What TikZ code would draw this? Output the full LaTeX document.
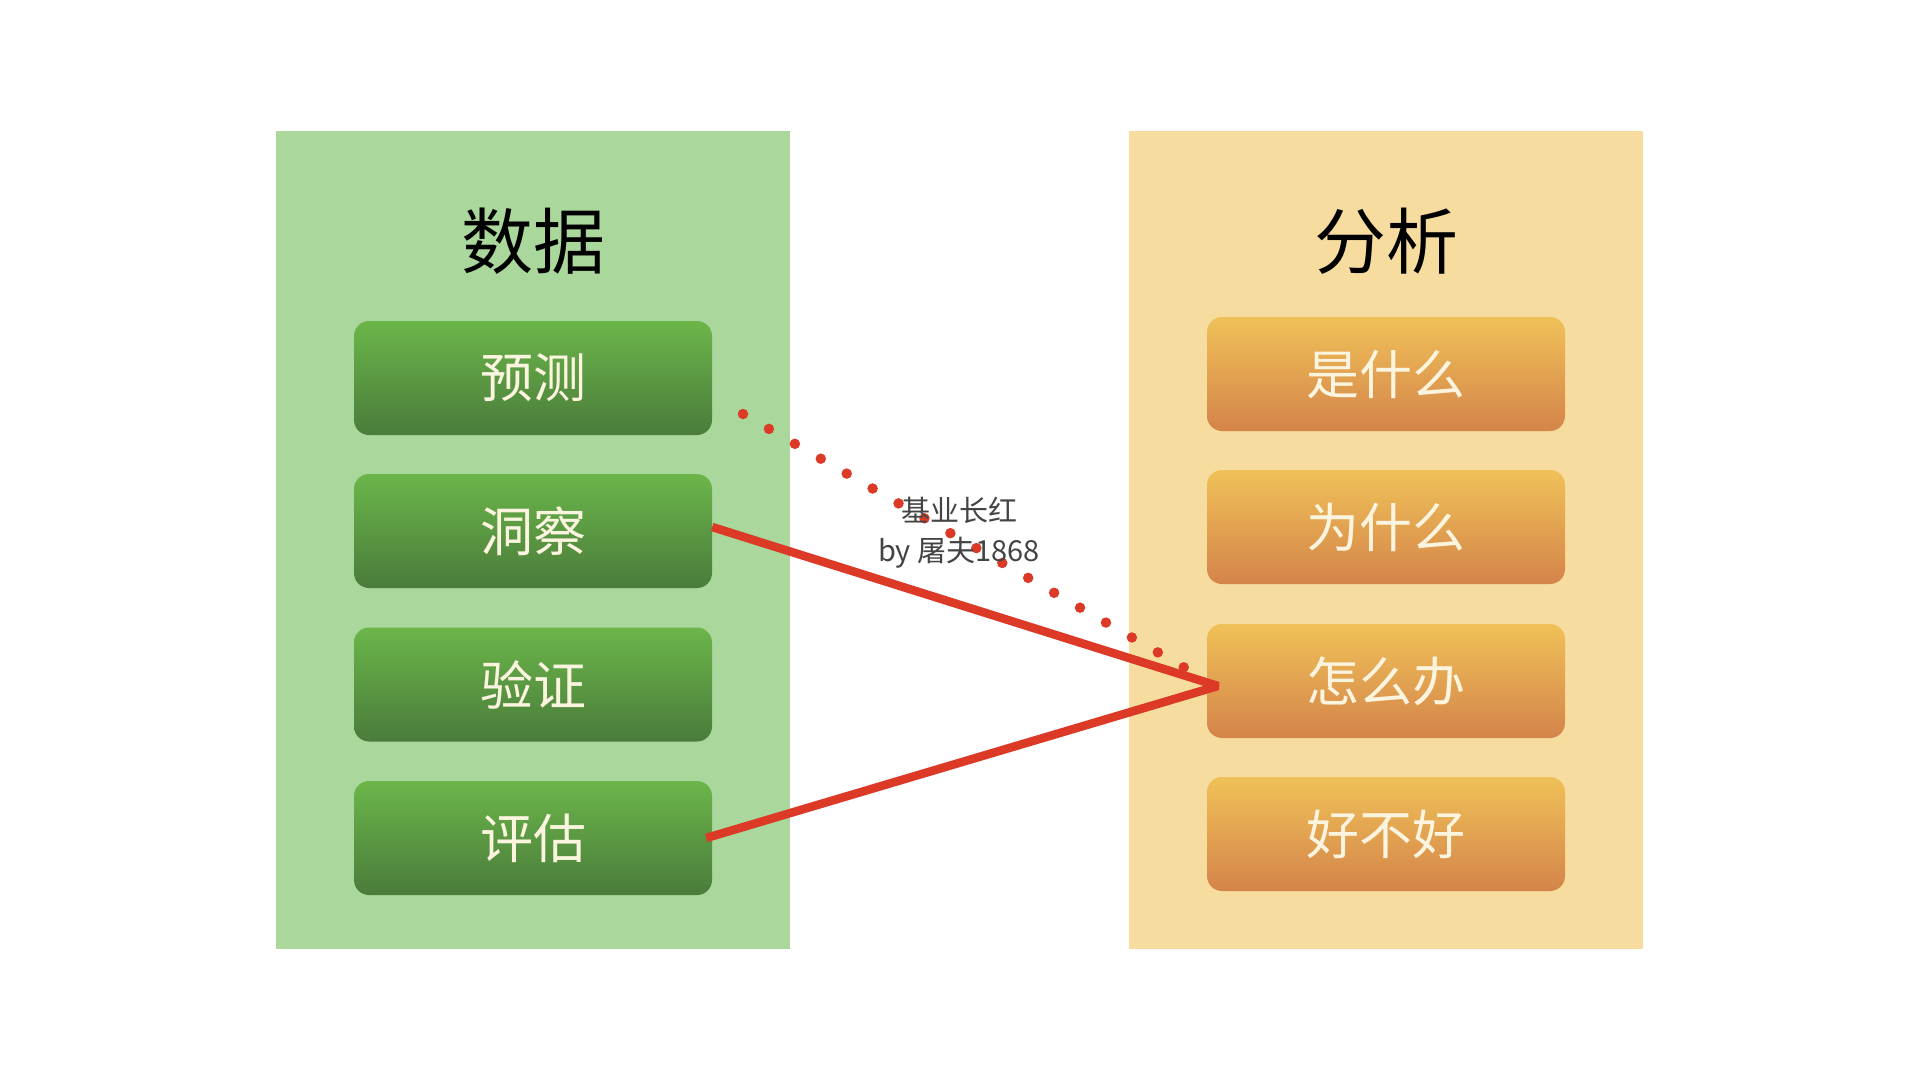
\documentclass[tikz,border=0pt]{standalone}
\usepackage{fontspec}
\newfontfamily\cjk{Noto Sans CJK SC}
\definecolor{pgreen}{HTML}{AAD79B}
\definecolor{porange}{HTML}{F7DCA0}
\definecolor{gtop}{HTML}{6BB64A}
\definecolor{gbot}{HTML}{4A7B3B}
\definecolor{otop}{HTML}{F0C158}
\definecolor{obot}{HTML}{D4844A}
\definecolor{lred}{HTML}{DC3A27}
\definecolor{cream}{HTML}{FBF4DF}
\definecolor{wm}{HTML}{444444}
\begin{document}
\begin{tikzpicture}[x=1pt,y=-1pt,
  panel/.style={draw=none,inner sep=0,minimum width=514pt,minimum height=818pt},
  title/.style={inner sep=0,font=\cjk\fontsize{72}{80}\selectfont,text=black},
  boxbase/.style={rounded corners=15pt,minimum width=358pt,minimum height=114pt,inner sep=0,
    text=cream,font=\cjk\fontsize{53}{60}\selectfont},
  gbox/.style={boxbase,top color=gtop,bottom color=gbot},
  obox/.style={boxbase,top color=otop,bottom color=obot},
  link/.style={draw=lred,line width=8.5pt,line join=bevel},
  dotline/.style={draw=lred,line width=10.5pt,line cap=round,dash pattern=on 0pt off 29.9pt},
  wmark/.style={inner sep=0,text=wm,font=\cjk\fontsize{29}{34}\selectfont}
]
\useasboundingbox (0,0) rectangle (1920,1080);
\fill[white] (0,0) rectangle (1920,1080);

\node[panel,fill=pgreen] (pg) at (533,540) {};
\node[panel,fill=porange] (po) at (1386,540) {};

\node[title] (t1) at (533,241) {数据};
\node[title] (t2) at (1386,241) {分析};

\node[gbox] (g1) at (533,378) {预测};
\node[gbox] (g2) at (533,531) {洞察};
\node[gbox] (g3) at (533,684.5) {验证};
\node[gbox] (g4) at (533,838) {评估};

\node[obox] (o1) at (1386,374) {是什么};
\node[obox] (o2) at (1386,527) {为什么};
\node[obox] (o3) at (1386,681) {怎么办};
\node[obox] (o4) at (1386,834) {好不好};

\coordinate (apex) at (1218,686);
\draw[link] ([yshift=4pt]g2.east) -- (apex) -- ([xshift=-6pt]g4.east);

\coordinate (d1) at (743,414);
\coordinate (d2) at (1185,668);
\draw[dotline] (d1) -- (d2);

\node[wmark] (m1) at (959,510) {基业长红};
\node[wmark] (m2) at (959,553) {by 屠夫1868};
\end{tikzpicture}
\end{document}
